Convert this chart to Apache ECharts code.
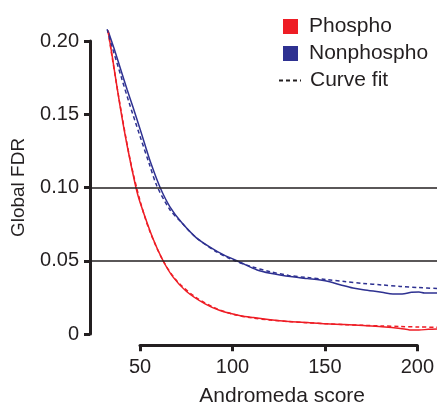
<!DOCTYPE html>
<html>
<head>
<meta charset="utf-8">
<script src="https://cdn.jsdelivr.net/npm/echarts@6/dist/echarts.min.js"></script>
<style>
  html, body { margin: 0; padding: 0; background: #fff; }
  #chart { width: 437px; height: 405px; }
</style>
</head>
<body>
<div id="chart"></div>
<script>
// Andromeda score vs global FDR
const phosphoScore = [32.8, 35, 39.2, 43, 47.8, 50, 57, 62.4, 67.7, 75, 85, 93, 104, 111, 120, 130, 140, 150, 160, 170, 180, 190, 195, 200, 205, 210];
const phosphoFdr = [0.207, 0.19, 0.156, 0.129, 0.1, 0.09, 0.065, 0.05, 0.039, 0.029, 0.0205, 0.016, 0.0125, 0.0112, 0.0098, 0.0086, 0.0078, 0.007, 0.0065, 0.0058, 0.005, 0.0038, 0.0028, 0.0027, 0.0032, 0.0035];

const phosphoFitScore = [32.8, 35, 40, 45, 50, 55, 62.4, 70, 80, 90, 100, 110, 120, 130, 140, 150, 160, 170, 180, 190, 200, 210];
const phosphoFitFdr = [0.207, 0.189, 0.151, 0.117, 0.091, 0.071, 0.05, 0.036, 0.025, 0.018, 0.0135, 0.011, 0.0095, 0.0085, 0.0077, 0.007, 0.0064, 0.0059, 0.0055, 0.0051, 0.0048, 0.0046];

const nonphosphoScore = [32.8, 36, 40, 43, 46.2, 50, 52.7, 56, 60.8, 66, 72.6, 80, 87.6, 95, 103.8, 113, 120, 132, 140, 147, 152, 158, 164.5, 170, 180, 186, 192, 196, 200, 203, 210];
const nonphosphoFdr = [0.207, 0.195, 0.179, 0.167, 0.155, 0.14, 0.129, 0.116, 0.1, 0.087, 0.0757, 0.066, 0.0593, 0.054, 0.049, 0.0437, 0.0415, 0.039, 0.0378, 0.0368, 0.0356, 0.0335, 0.0314, 0.0302, 0.0285, 0.0273, 0.0275, 0.0285, 0.0287, 0.028, 0.028];

const nonphosphoFitScore = [32.3, 35, 40, 44.1, 50, 55, 59.1, 66, 72.6, 80, 90, 100, 110, 120, 130, 140, 150, 160, 170, 180, 190, 200, 210];
const nonphosphoFitFdr = [0.208, 0.196, 0.175, 0.158, 0.135, 0.116, 0.101, 0.085, 0.0757, 0.066, 0.057, 0.0505, 0.046, 0.0425, 0.04, 0.0385, 0.0372, 0.0358, 0.0345, 0.0335, 0.0325, 0.0317, 0.031];

const yTicks = [0, 0.05, 0.1, 0.15, 0.2];
const xTicks = [50, 100, 150, 200];
const cutoffs = [0.1, 0.05];

const RED = '#ee1d25';
const BLUE = '#2e3191';
const INK = '#231f20';
const FONT = '"Liberation Sans", Arial, sans-serif';

function pairs(xs, ys) {
  return xs.map((x, i) => [x, ys[i]]);
}

function curve(name, xs, ys, color, dashed) {
  return {
    name: name, type: 'line', data: pairs(xs, ys),
    showSymbol: false, symbol: 'none', smooth: 0.3, clip: false,
    itemStyle: { color: color },
    lineStyle: { color: color, width: 1.5, type: dashed ? [4, 3] : 'solid' }
  };
}

const chart = echarts.init(document.getElementById('chart'));

chart.setOption({
  animation: false,
  textStyle: { fontFamily: FONT, color: INK },
  grid: [
    { left: 90, right: 0, top: 41, bottom: 71 },
    { left: 140, right: 18, top: 345, height: 1 }
  ],
  xAxis: [
    { gridIndex: 0, type: 'value', min: 23.1, max: 209.7, show: false },
    {
      gridIndex: 1, type: 'value', min: xTicks[0], max: xTicks[xTicks.length - 1], interval: 50,
      name: 'Andromeda score', nameLocation: 'middle', nameGap: 40,
      nameTextStyle: { fontSize: 21, color: INK, padding: [0, 0, 0, 7] },
      axisLine: { lineStyle: { color: INK, width: 3 } },
      axisTick: { length: 6, lineStyle: { color: INK, width: 3 } },
      axisLabel: { fontSize: 20, color: INK, margin: 12 },
      splitLine: { show: false }
    }
  ],
  yAxis: [
    {
      gridIndex: 0, type: 'value', min: yTicks[0], max: yTicks[yTicks.length - 1], interval: 0.05,
      name: 'Global FDR', nameLocation: 'middle', nameGap: 62,
      nameTextStyle: { fontSize: 19, color: INK },
      axisLine: { show: true, lineStyle: { color: INK, width: 3 } },
      axisTick: { show: true, length: 6, lineStyle: { color: INK, width: 3 } },
      axisLabel: {
        fontSize: 20, color: INK, margin: 11,
        formatter: v => (v === 0 ? '0' : v.toFixed(2))
      },
      splitLine: { show: false }
    },
    { gridIndex: 1, type: 'value', show: false }
  ],
  legend: [
    {
      data: [{ name: 'Phospho', icon: 'rect' }, { name: 'Nonphospho', icon: 'rect' }],
      orient: 'vertical', left: 283, top: 16, padding: 0,
      itemWidth: 15, itemHeight: 15, itemGap: 6,
      selectedMode: false,
      textStyle: { fontSize: 21, color: INK, lineHeight: 21, padding: [0, 0, 0, 6] }
    },
    {
      data: [{ name: 'Curve fit', itemStyle: { opacity: 0 } }],
      orient: 'vertical', left: 278, top: 70, padding: 0,
      itemWidth: 22, itemHeight: 14,
      selectedMode: false,
      textStyle: { fontSize: 21, color: INK, lineHeight: 21, padding: [0, 0, 0, 4] }
    }
  ],
  series: [
    {
      name: 'cutoffs', type: 'line', data: [],
      markLine: {
        silent: true, symbol: 'none', label: { show: false },
        lineStyle: { color: INK, width: 1.5, type: 'solid' },
        data: cutoffs.map(c => ({ yAxis: c }))
      }
    },
    curve('Phospho', phosphoScore, phosphoFdr, RED, false),
    curve('Nonphospho', nonphosphoScore, nonphosphoFdr, BLUE, false),
    curve('Phospho fit', phosphoFitScore, phosphoFitFdr, RED, true),
    curve('Nonphospho fit', nonphosphoFitScore, nonphosphoFitFdr, BLUE, true),
    {
      name: 'Curve fit', type: 'line', data: [],
      showSymbol: false, symbol: 'none',
      itemStyle: { color: INK }, lineStyle: { color: INK, width: 2, type: [4, 3] }
    }
  ]
});
</script>
</body>
</html>
